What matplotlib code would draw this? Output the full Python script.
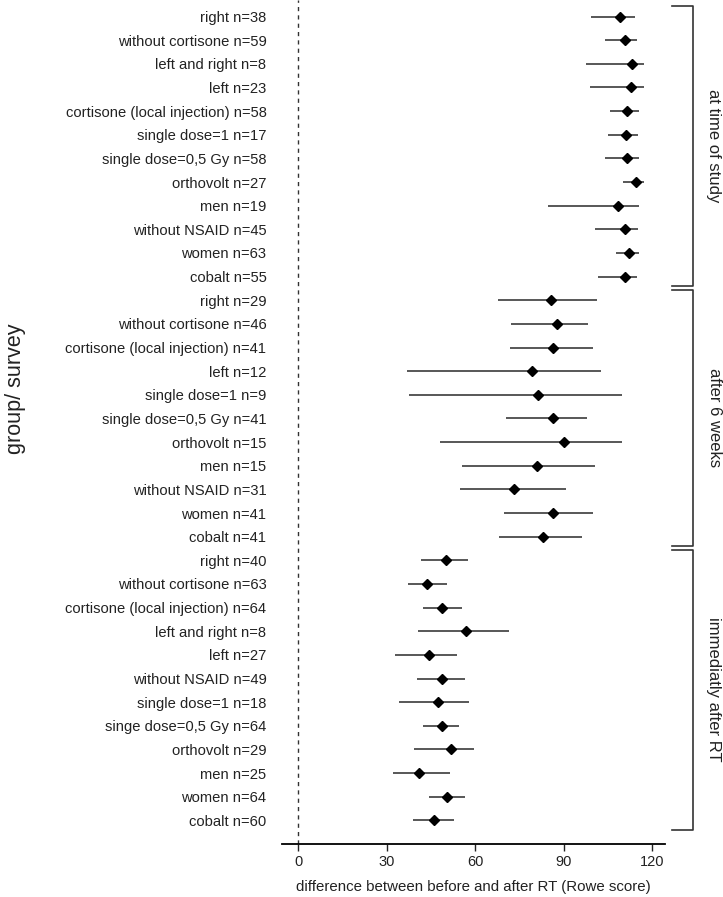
import matplotlib
matplotlib.use("Agg")
import matplotlib.pyplot as plt
import matplotlib.transforms as mtransforms

plt.rcParams['font.family'] = ['Liberation Sans', 'DejaVu Sans']

# ---------------- data (top to bottom within each group) ----------------
groups = ["at time of study", "after 6 weeks", "immediatly after RT"]

labels_study = ["right n=38", "without cortisone n=59", "left and right n=8", "left n=23",
                "cortisone (local injection) n=58", "single dose=1 n=17",
                "single dose=0,5 Gy n=58", "orthovolt n=27", "men n=19",
                "without NSAID n=45", "women n=63", "cobalt n=55"]
mean_study = [109.3, 110.7, 113.3, 112.7, 111.4, 111.3, 111.5, 114.6, 108.6, 111.0, 112.1, 110.7]
low_study = [99.4, 104.2, 97.7, 99.1, 105.7, 104.9, 104.1, 110.1, 84.7, 100.8, 107.7, 101.8]
high_study = [114.2, 114.8, 117.3, 117.2, 115.7, 115.3, 115.7, 117.3, 115.5, 115.1, 115.6, 115.0]

labels_6w = ["right n=29", "without cortisone n=46", "cortisone (local injection) n=41",
             "left n=12", "single dose=1 n=9", "single dose=0,5 Gy n=41", "orthovolt n=15",
             "men n=15", "without NSAID n=31", "women n=41", "cobalt n=41"]
mean_6w = [85.8, 87.8, 86.4, 79.4, 81.2, 86.4, 90.3, 81.1, 73.2, 86.4, 83.1]
low_6w = [67.7, 72.3, 71.8, 36.9, 37.5, 70.4, 48.2, 55.7, 54.9, 69.7, 68.0]
high_6w = [101.2, 98.2, 100.0, 102.7, 109.7, 98.0, 109.9, 100.5, 90.9, 99.9, 96.1]

labels_rt = ["right n=40", "without cortisone n=63", "cortisone (local injection) n=64",
             "left and right n=8", "left n=27", "without NSAID n=49", "single dose=1 n=18",
             "singe dose=0,5 Gy n=64", "orthovolt n=29", "men n=25", "women n=64", "cobalt n=60"]
mean_rt = [50.1, 43.6, 48.9, 56.9, 44.2, 48.7, 47.4, 48.7, 51.7, 41.1, 50.4, 46.1]
low_rt = [41.8, 37.4, 42.2, 40.5, 32.8, 40.4, 34.1, 42.2, 39.3, 32.2, 44.2, 38.8]
high_rt = [57.7, 50.4, 55.5, 71.4, 53.8, 56.5, 57.9, 54.7, 59.7, 51.5, 56.6, 52.7]

xticks = [0, 30, 60, 90, 120]

# ---------------- figure ----------------
fig = plt.figure(figsize=(7.23, 8.97), dpi=100)
ax = fig.add_axes([281.7 / 723, 53 / 897, (665 - 281.7) / 723, 844 / 897])

all_labels = labels_study + labels_6w + labels_rt
all_mean = mean_study + mean_6w + mean_rt
all_low = low_study + low_6w + low_rt
all_high = high_study + high_6w + high_rt
n = len(all_labels)
ypos = [n - 1 - i for i in range(n)]

ax.axvline(0, color="#333333", lw=1.0, ls=(0, (3, 3)), zorder=1)
ax.hlines(ypos, all_low, all_high, color="#4a4a4a", lw=1.3, zorder=2)
ax.plot(all_mean, ypos, ls="none", marker="D", ms=5.6, color="black", zorder=3)

ax.set_xlim(-5.6, 124.4)
ax.set_ylim(-1, n - 1 + 0.7)
ax.set_xticks(xticks)
ax.set_yticks(ypos)
ax.set_yticklabels(all_labels, fontsize=10.6, color="#222222")
ax.tick_params(axis="y", length=0, pad=11)
ax.tick_params(axis="x", length=5, width=1.0, labelsize=10.5, colors="#222222", pad=3)
for s in ["top", "right", "left"]:
    ax.spines[s].set_visible(False)
ax.spines["bottom"].set_linewidth(1.3)
ax.set_xlabel("difference between before and after RT (Rowe score)", fontsize=10.8,
              color="#222222", labelpad=8)

fig.text(0.022, 1 - 389 / 897, "group/ survey", rotation=90, fontsize=15.5,
         va="center", ha="center", color="#222222")

# brackets
trans = mtransforms.blended_transform_factory(ax.transAxes, ax.transData)
sizes = [len(labels_study), len(labels_6w), len(labels_rt)]
start = 0
xb = (693 - 281.7) / (665 - 281.7)
xt = (672 - 281.7) / (665 - 281.7)
xtext = (714 - 281.7) / (665 - 281.7)
for g, sz in zip(groups, sizes):
    ytop = ypos[start] + 0.45
    ybot = ypos[start + sz - 1] - 0.4
    ax.plot([xt, xb, xb, xt], [ytop, ytop, ybot, ybot], transform=trans,
            color="#333333", lw=1.2, clip_on=False)
    ax.text(xtext, (ytop + ybot) / 2, g, transform=trans, rotation=-90,
            ha="center", va="center", fontsize=12, color="#222222")
    start += sz

fig.savefig("out.png", dpi=100)
